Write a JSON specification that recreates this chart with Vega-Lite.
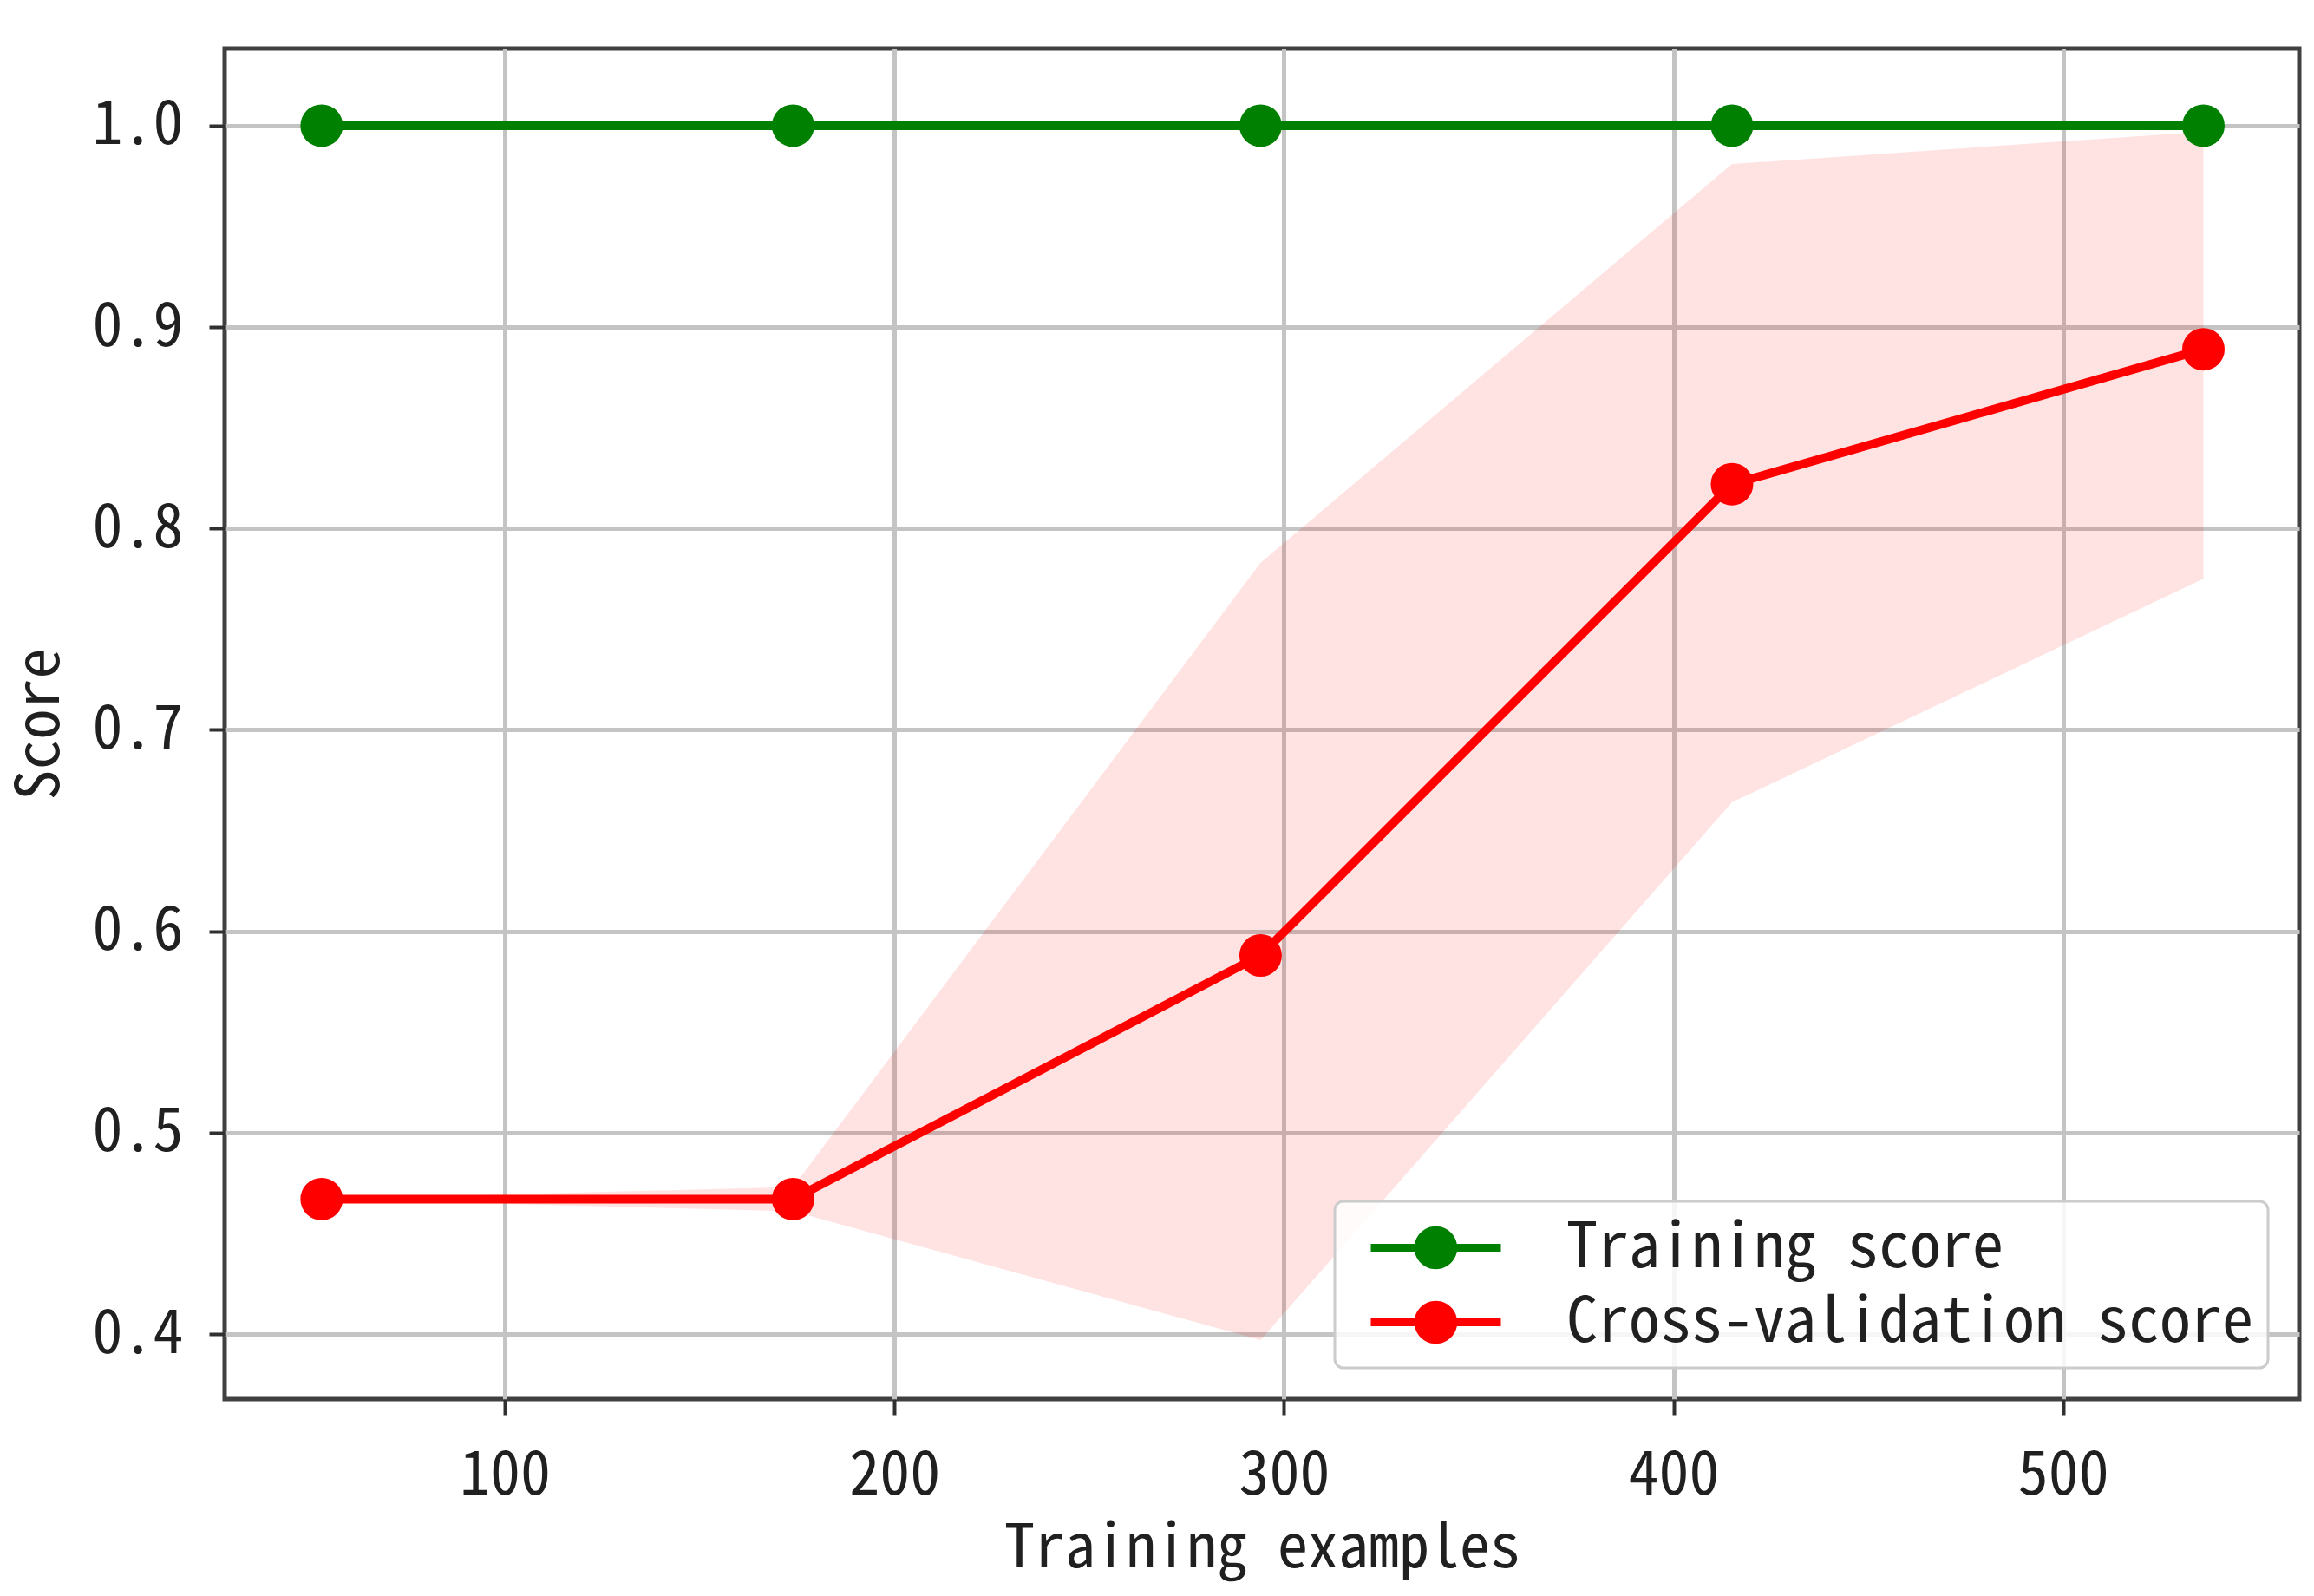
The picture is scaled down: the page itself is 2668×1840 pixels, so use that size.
{
  "$schema": "https://vega.github.io/schema/vega-lite/v6.json",
  "width": 2392,
  "height": 1557,
  "autosize": {"type": "none"},
  "padding": {"left": 259, "top": 56, "right": 17, "bottom": 227},
  "background": "white",
  "data": {
    "values": [
      {"n": 53, "series": "Training score", "score": 1.0, "lo": 1.0, "hi": 1.0},
      {"n": 174, "series": "Training score", "score": 1.0, "lo": 1.0, "hi": 1.0},
      {"n": 294, "series": "Training score", "score": 1.0, "lo": 1.0, "hi": 1.0},
      {"n": 415, "series": "Training score", "score": 1.0, "lo": 1.0, "hi": 1.0},
      {"n": 536, "series": "Training score", "score": 1.0, "lo": 1.0, "hi": 1.0},
      {"n": 53, "series": "Cross-validation score", "score": 0.467, "lo": 0.467, "hi": 0.467},
      {"n": 174, "series": "Cross-validation score", "score": 0.467, "lo": 0.461, "hi": 0.473},
      {"n": 294, "series": "Cross-validation score", "score": 0.588, "lo": 0.397, "hi": 0.783},
      {"n": 415, "series": "Cross-validation score", "score": 0.822, "lo": 0.664, "hi": 0.981},
      {"n": 536, "series": "Cross-validation score", "score": 0.889, "lo": 0.775, "hi": 0.997}
    ]
  },
  "config": {
    "font": "Noto Sans Mono CJK SC",
    "view": {"stroke": "#404040", "strokeWidth": 5},
    "axis": {
      "labelFont": "Noto Sans Mono CJK SC",
      "titleFont": "Noto Sans Mono CJK SC",
      "labelFontSize": 70,
      "titleFontSize": 70,
      "titleFontWeight": "normal",
      "labelColor": "#202020",
      "titleColor": "#202020",
      "domain": false,
      "grid": true,
      "gridColor": "#c4c4c4",
      "gridWidth": 5,
      "tickColor": "#303030",
      "tickWidth": 4,
      "tickSize": 18
    },
    "legend": {
      "labelFont": "Noto Sans Mono CJK SC",
      "labelFontSize": 72,
      "labelColor": "#202020",
      "labelLimit": 0
    }
  },
  "layer": [
    {
      "transform": [{"filter": "datum.series == 'Cross-validation score'"}],
      "mark": {"type": "area", "color": "#ff0000", "opacity": 0.11},
      "encoding": {
        "x": {"field": "n", "type": "quantitative"},
        "y": {"field": "lo", "type": "quantitative"},
        "y2": {"field": "hi"}
      }
    },
    {
      "mark": {"type": "line", "strokeWidth": 10},
      "encoding": {
        "x": {"field": "n", "type": "quantitative"},
        "y": {"field": "score", "type": "quantitative"},
        "color": {"field": "series", "type": "nominal"}
      }
    },
    {
      "mark": {"type": "point", "filled": true, "opacity": 1, "size": 2400},
      "encoding": {
        "x": {"field": "n", "type": "quantitative"},
        "y": {"field": "score", "type": "quantitative"},
        "color": {"field": "series", "type": "nominal"}
      }
    }
  ],
  "encoding": {
    "x": {
      "field": "n",
      "type": "quantitative",
      "scale": {"domain": [28.1, 560.6], "nice": false, "zero": false},
      "axis": {"values": [100, 200, 300, 400, 500], "title": "Training examples", "labelPadding": 36, "titlePadding": 15, "labelFlush": false}
    },
    "y": {
      "field": "score",
      "type": "quantitative",
      "scale": {"domain": [0.3677, 1.0383], "nice": false, "zero": false},
      "axis": {"values": [0.4, 0.5, 0.6, 0.7, 0.8, 0.9, 1.0], "format": ".1f", "title": "Score", "labelPadding": 30, "titlePadding": 24, "labelFlush": false}
    },
    "color": {
      "field": "series",
      "type": "nominal",
      "scale": {"domain": ["Training score", "Cross-validation score"], "range": ["#008000", "#ff0000"]},
      "legend": {
        "title": null,
        "orient": "bottom-right",
        "offset": 36,
        "padding": 16,
        "fillColor": "rgba(255,255,255,0.85)",
        "strokeColor": "#cccccc",
        "cornerRadius": 10,
        "symbolType": "M-2,-0.12H2V0.12H-2Z M0.66,0A0.66,0.66 0 1,1 -0.66,0A0.66,0.66 0 1,1 0.66,0Z",
        "symbolSize": 5625,
        "symbolStrokeWidth": 0,
        "symbolOffset": 63,
        "labelOffset": 113,
        "labelLimit": 0,
        "rowPadding": 12,
        "encode": {
          "legend": {"update": {"strokeWidth": {"value": 3}}},
          "symbols": {
            "update": {
              "fill": {"scale": "color", "field": "value"},
              "stroke": {"value": "transparent"},
              "opacity": {"value": 1}
            }
          }
        }
      }
    }
  }
}
